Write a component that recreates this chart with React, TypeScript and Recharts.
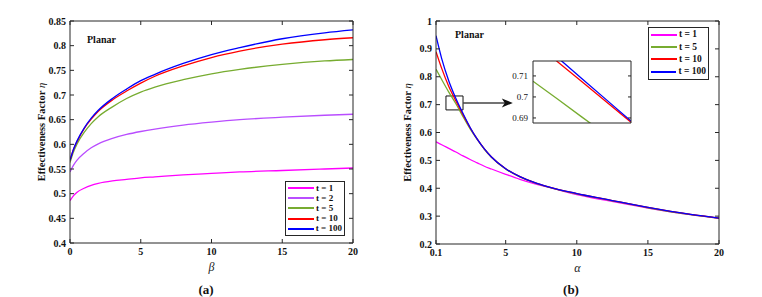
import React from "react"
import {
  Legend,
  Line,
  LineChart,
  ReferenceArea,
  ReferenceDot,
  ReferenceLine,
  XAxis,
  YAxis,
} from "recharts"

const serif = '"Liberation Serif", "Times New Roman", serif'
const ink = "#262626"

// panel (a): effectiveness factor vs beta
const betaValues = [0, 0.25, 0.5, 1, 1.5, 2, 3, 4, 5, 6, 8, 10, 12, 15, 18, 20]
const aT1 = [0.486, 0.496, 0.503, 0.511, 0.517, 0.521, 0.526, 0.529, 0.532, 0.534, 0.538, 0.541, 0.544, 0.547, 0.55, 0.552]
const aT2 = [0.544, 0.558, 0.568, 0.582, 0.593, 0.601, 0.612, 0.62, 0.626, 0.631, 0.639, 0.645, 0.65, 0.655, 0.659, 0.661]
const aT5 = [0.563, 0.585, 0.601, 0.624, 0.642, 0.656, 0.676, 0.693, 0.706, 0.716, 0.731, 0.743, 0.752, 0.762, 0.769, 0.772]
const aT10 = [0.567, 0.59, 0.606, 0.632, 0.651, 0.667, 0.69, 0.708, 0.724, 0.738, 0.759, 0.776, 0.789, 0.803, 0.812, 0.816]
const aT100 = [0.567, 0.59, 0.607, 0.633, 0.653, 0.669, 0.693, 0.712, 0.729, 0.742, 0.764, 0.782, 0.796, 0.814, 0.826, 0.832]

// panel (b): effectiveness factor vs alpha
const alphaValues = [0.1, 0.5, 1, 1.5, 2, 2.5, 3, 3.5, 4, 5, 6, 7, 8, 10, 12, 15, 18, 20]
const bT1 = [0.567, 0.556, 0.543, 0.53, 0.516, 0.503, 0.491, 0.479, 0.469, 0.45, 0.432, 0.417, 0.404, 0.377, 0.357, 0.329, 0.305, 0.292]
const bT5 = [0.827, 0.79, 0.745, 0.703, 0.657, 0.613, 0.575, 0.54, 0.511, 0.469, 0.441, 0.42, 0.404, 0.38, 0.36, 0.33, 0.305, 0.292]
const bT10 = [0.89, 0.83, 0.765, 0.713, 0.664, 0.617, 0.576, 0.541, 0.512, 0.47, 0.442, 0.421, 0.405, 0.381, 0.361, 0.331, 0.306, 0.293]
const bT100 = [0.947, 0.865, 0.785, 0.722, 0.668, 0.618, 0.576, 0.541, 0.512, 0.47, 0.442, 0.421, 0.405, 0.381, 0.361, 0.331, 0.306, 0.293]

// zoomed inset of panel (b)
const insetAlpha = [1.4, 1.5, 1.6, 1.7, 1.8]
const inT5 = [0.7075, 0.699, 0.6904, 0.6819, 0.6734]
const inT10 = [0.7264, 0.7168, 0.7072, 0.6976, 0.688]
const inT100 = [0.729, 0.7188, 0.7087, 0.6986, 0.6885]

const aTicksX = [0, 5, 10, 15, 20]
const aTicksY = [0.4, 0.45, 0.5, 0.55, 0.6, 0.65, 0.7, 0.75, 0.8, 0.85]
const bTicksX = [0.1, 5, 10, 15, 20]
const bTicksY = [0.2, 0.3, 0.4, 0.5, 0.6, 0.7, 0.8, 0.9, 1]
const insetTicksY = [0.69, 0.7, 0.71]

const seriesOrder = ["t = 1", "t = 2", "t = 5", "t = 10", "t = 100"]

const colors = {
  t1: "#ff00ff",
  t2: "#b94dff",
  t5: "#77ac30",
  t10: "#ff0000",
  t100: "#0000ff",
}

const dataA = betaValues.map((b, i) => ({
  beta: b,
  t1: aT1[i],
  t2: aT2[i],
  t5: aT5[i],
  t10: aT10[i],
  t100: aT100[i],
}))

const dataB = alphaValues.map((a, i) => ({
  alpha: a,
  t1: bT1[i],
  t5: bT5[i],
  t10: bT10[i],
  t100: bT100[i],
}))

const dataInset = insetAlpha.map((a, i) => ({
  alpha: a,
  t5: inT5[i],
  t10: inT10[i],
  t100: inT100[i],
}))

const tickFont = { fontSize: 10, fontFamily: serif, fontWeight: 700, fill: "#111" }
const lineProps = { axisLine: { stroke: ink }, tickLine: { stroke: ink } }
const blank = () => ""

const YLabel = (props: any) => {
  const vb = props.viewBox
  const x = vb.x - 24
  const y = vb.y + vb.height / 2
  return (
    <text
      x={x}
      y={y}
      transform={`rotate(-90 ${x} ${y})`}
      textAnchor="middle"
      fontFamily={serif}
      fontSize={10.5}
      fill="#111"
    >
      <tspan fontWeight={700}>Effectiveness Factor </tspan>
      <tspan fontStyle="italic">η</tspan>
    </text>
  )
}

const XLabel = (sym: string) => (props: any) => {
  const vb = props.viewBox
  return (
    <text
      x={vb.x + vb.width / 2}
      y={vb.y + 28}
      textAnchor="middle"
      fontFamily={serif}
      fontStyle="italic"
      fontSize={12}
      fill="#222"
    >
      {sym}
    </text>
  )
}

const LegendBox = (rowH: number, fs: number, width: number) => (props: any) => {
  const items = [...(props.payload || [])].sort(
    (a: any, b: any) => seriesOrder.indexOf(a.value) - seriesOrder.indexOf(b.value)
  )
  return (
    <div
      style={{
        width,
        border: `1px solid ${ink}`,
        background: "#fff",
        padding: "1px 2px",
        boxSizing: "border-box",
      }}
    >
      {items.map((p: any) => (
        <div
          key={p.value}
          style={{ display: "flex", alignItems: "center", height: rowH }}
        >
          <span
            style={{ width: 26, height: 2, background: p.color, marginRight: 2 }}
          />
          <span
            style={{
              fontFamily: serif,
              fontWeight: 700,
              fontSize: fs,
              lineHeight: 1,
              color: "#111",
              whiteSpace: "nowrap",
            }}
          >
            {p.value}
          </span>
        </div>
      ))}
    </div>
  )
}

const ArrowHead = (props: any) => {
  const { cx, cy } = props
  return (
    <path
      d={`M${cx},${cy} L${cx - 11},${cy - 4.5} L${cx - 8},${cy} L${cx - 11},${cy + 4.5} Z`}
      fill="#111"
    />
  )
}

const textStyle = (size: number): React.CSSProperties => ({
  position: "absolute",
  fontFamily: serif,
  fontWeight: 700,
  fontSize: size,
  lineHeight: 1,
  color: "#111",
  whiteSpace: "nowrap",
})

export default function App() {
  return (
    <div
      style={{
        position: "absolute",
        left: 0,
        top: 0,
        width: 762,
        height: 297,
        background: "#fff",
        overflow: "hidden",
      }}
    >
      <div style={{ position: "absolute", left: 0, top: 0 }}>
        <LineChart
          width={380}
          height={297}
          data={dataA}
          margin={{ top: 20, right: 26, bottom: 53, left: 69 }}
        >
          <XAxis
            dataKey="beta"
            type="number"
            domain={[0, 20]}
            ticks={aTicksX}
            interval={0}
            allowDataOverflow
            height={1}
            tickSize={-4}
            tickMargin={9}
            tick={tickFont}
            {...lineProps}
            label={{ content: XLabel("β") }}
          />
          <XAxis
            xAxisId="top"
            orientation="top"
            dataKey="beta"
            type="number"
            domain={[0, 20]}
            ticks={aTicksX}
            interval={0}
            allowDataOverflow
            height={1}
            tickSize={-4}
            tickFormatter={blank}
            {...lineProps}
          />
          <YAxis
            type="number"
            domain={[0.4, 0.85]}
            ticks={aTicksY}
            interval={0}
            allowDataOverflow
            width={1}
            tickSize={-4}
            tickMargin={8}
            tick={tickFont}
            tickFormatter={(v: number) => String(v)}
            {...lineProps}
            label={{ content: YLabel }}
          />
          <YAxis
            yAxisId="right"
            orientation="right"
            type="number"
            domain={[0.4, 0.85]}
            ticks={aTicksY}
            interval={0}
            allowDataOverflow
            width={1}
            tickSize={-4}
            tickFormatter={blank}
            {...lineProps}
          />
          <Line type="monotone" dataKey="t1" name="t = 1" stroke={colors.t1} strokeWidth={1.3} dot={false} isAnimationActive={false} />
          <Line type="monotone" dataKey="t2" name="t = 2" stroke={colors.t2} strokeWidth={1.3} dot={false} isAnimationActive={false} />
          <Line type="monotone" dataKey="t5" name="t = 5" stroke={colors.t5} strokeWidth={1.3} dot={false} isAnimationActive={false} />
          <Line type="monotone" dataKey="t10" name="t = 10" stroke={colors.t10} strokeWidth={1.3} dot={false} isAnimationActive={false} />
          <Line type="monotone" dataKey="t100" name="t = 100" stroke={colors.t100} strokeWidth={1.3} dot={false} isAnimationActive={false} />
          <Legend
            layout="vertical"
            align="center"
            verticalAlign="middle"
            wrapperStyle={{ left: 285, top: 181, width: "auto", height: "auto" }}
            content={LegendBox(10.2, 9, 60)}
          />
        </LineChart>
      </div>

      <div style={{ position: "absolute", left: 380, top: 0 }}>
        <LineChart
          width={382}
          height={297}
          data={dataB}
          margin={{ top: 20, right: 42, bottom: 52, left: 55 }}
        >
          <XAxis
            dataKey="alpha"
            type="number"
            domain={[0.1, 20]}
            ticks={bTicksX}
            interval={0}
            allowDataOverflow
            height={1}
            tickSize={-4}
            tickMargin={9}
            tick={tickFont}
            {...lineProps}
            label={{ content: XLabel("α") }}
          />
          <XAxis
            xAxisId="top"
            orientation="top"
            dataKey="alpha"
            type="number"
            domain={[0.1, 20]}
            ticks={bTicksX}
            interval={0}
            allowDataOverflow
            height={1}
            tickSize={-4}
            tickFormatter={blank}
            {...lineProps}
          />
          <YAxis
            type="number"
            domain={[0.2, 1]}
            ticks={bTicksY}
            interval={0}
            allowDataOverflow
            width={1}
            tickSize={-4}
            tickMargin={8}
            tick={tickFont}
            tickFormatter={(v: number) => String(v)}
            {...lineProps}
            label={{ content: YLabel }}
          />
          <YAxis
            yAxisId="right"
            orientation="right"
            type="number"
            domain={[0.2, 1]}
            ticks={bTicksY}
            interval={0}
            allowDataOverflow
            width={1}
            tickSize={-4}
            tickFormatter={blank}
            {...lineProps}
          />
          <Line type="monotone" dataKey="t1" name="t = 1" stroke={colors.t1} strokeWidth={1.3} dot={false} isAnimationActive={false} />
          <Line type="monotone" dataKey="t5" name="t = 5" stroke={colors.t5} strokeWidth={1.3} dot={false} isAnimationActive={false} />
          <Line type="monotone" dataKey="t10" name="t = 10" stroke={colors.t10} strokeWidth={1.3} dot={false} isAnimationActive={false} />
          <Line type="monotone" dataKey="t100" name="t = 100" stroke={colors.t100} strokeWidth={1.3} dot={false} isAnimationActive={false} />
          <ReferenceArea
            x1={0.8}
            x2={2.0}
            y1={0.681}
            y2={0.731}
            fill="none"
            fillOpacity={0}
            stroke="#111"
            strokeWidth={1}
          />
          <ReferenceLine
            segment={[
              { x: 2.0, y: 0.706 },
              { x: 5.0, y: 0.706 },
            ]}
            stroke="#444"
            strokeWidth={1.6}
          />
          <ReferenceDot x={5.5} y={0.706} shape={ArrowHead} />
          <Legend
            layout="vertical"
            align="center"
            verticalAlign="middle"
            wrapperStyle={{ left: 268, top: 27, width: "auto", height: "auto" }}
            content={LegendBox(12.2, 9.5, 61)}
          />
        </LineChart>
      </div>

      <div
        style={{
          position: "absolute",
          left: 533,
          top: 61,
          width: 98,
          height: 62,
          background: "#fff",
        }}
      />
      <div style={{ position: "absolute", left: 490, top: 50 }}>
        <LineChart
          width={150}
          height={85}
          data={dataInset}
          margin={{ top: 10, right: 8, bottom: 11, left: 42 }}
        >
          <XAxis
            dataKey="alpha"
            type="number"
            domain={[1.4, 1.8]}
            allowDataOverflow
            height={1}
            tick={false}
            tickLine={false}
            axisLine={{ stroke: ink }}
          />
          <XAxis
            xAxisId="top"
            orientation="top"
            dataKey="alpha"
            type="number"
            domain={[1.4, 1.8]}
            allowDataOverflow
            height={1}
            tick={false}
            tickLine={false}
            axisLine={{ stroke: ink }}
          />
          <YAxis
            type="number"
            domain={[0.6876, 0.7171]}
            ticks={insetTicksY}
            interval={0}
            allowDataOverflow
            width={1}
            tickSize={-3}
            tickMargin={8}
            tick={{ fontSize: 9, fontFamily: serif, fill: "#111" }}
            tickFormatter={(v: number) => String(v)}
            {...lineProps}
          />
          <YAxis
            yAxisId="right"
            orientation="right"
            type="number"
            domain={[0.6876, 0.7171]}
            ticks={insetTicksY}
            interval={0}
            allowDataOverflow
            width={1}
            tickSize={-3}
            tickFormatter={blank}
            {...lineProps}
          />
          <Line type="linear" dataKey="t5" stroke={colors.t5} strokeWidth={1.3} dot={false} isAnimationActive={false} />
          <Line type="linear" dataKey="t10" stroke={colors.t10} strokeWidth={1.3} dot={false} isAnimationActive={false} />
          <Line type="linear" dataKey="t100" stroke={colors.t100} strokeWidth={1.3} dot={false} isAnimationActive={false} />
        </LineChart>
      </div>

      <div style={{ ...textStyle(10), left: 87, top: 35 }}>Planar</div>
      <div style={{ ...textStyle(10), left: 455, top: 30 }}>Planar</div>
      <div style={{ ...textStyle(13), left: 206, top: 283, transform: "translateX(-50%)" }}>(a)</div>
      <div style={{ ...textStyle(13), left: 571, top: 283, transform: "translateX(-50%)" }}>(b)</div>
    </div>
  )
}
